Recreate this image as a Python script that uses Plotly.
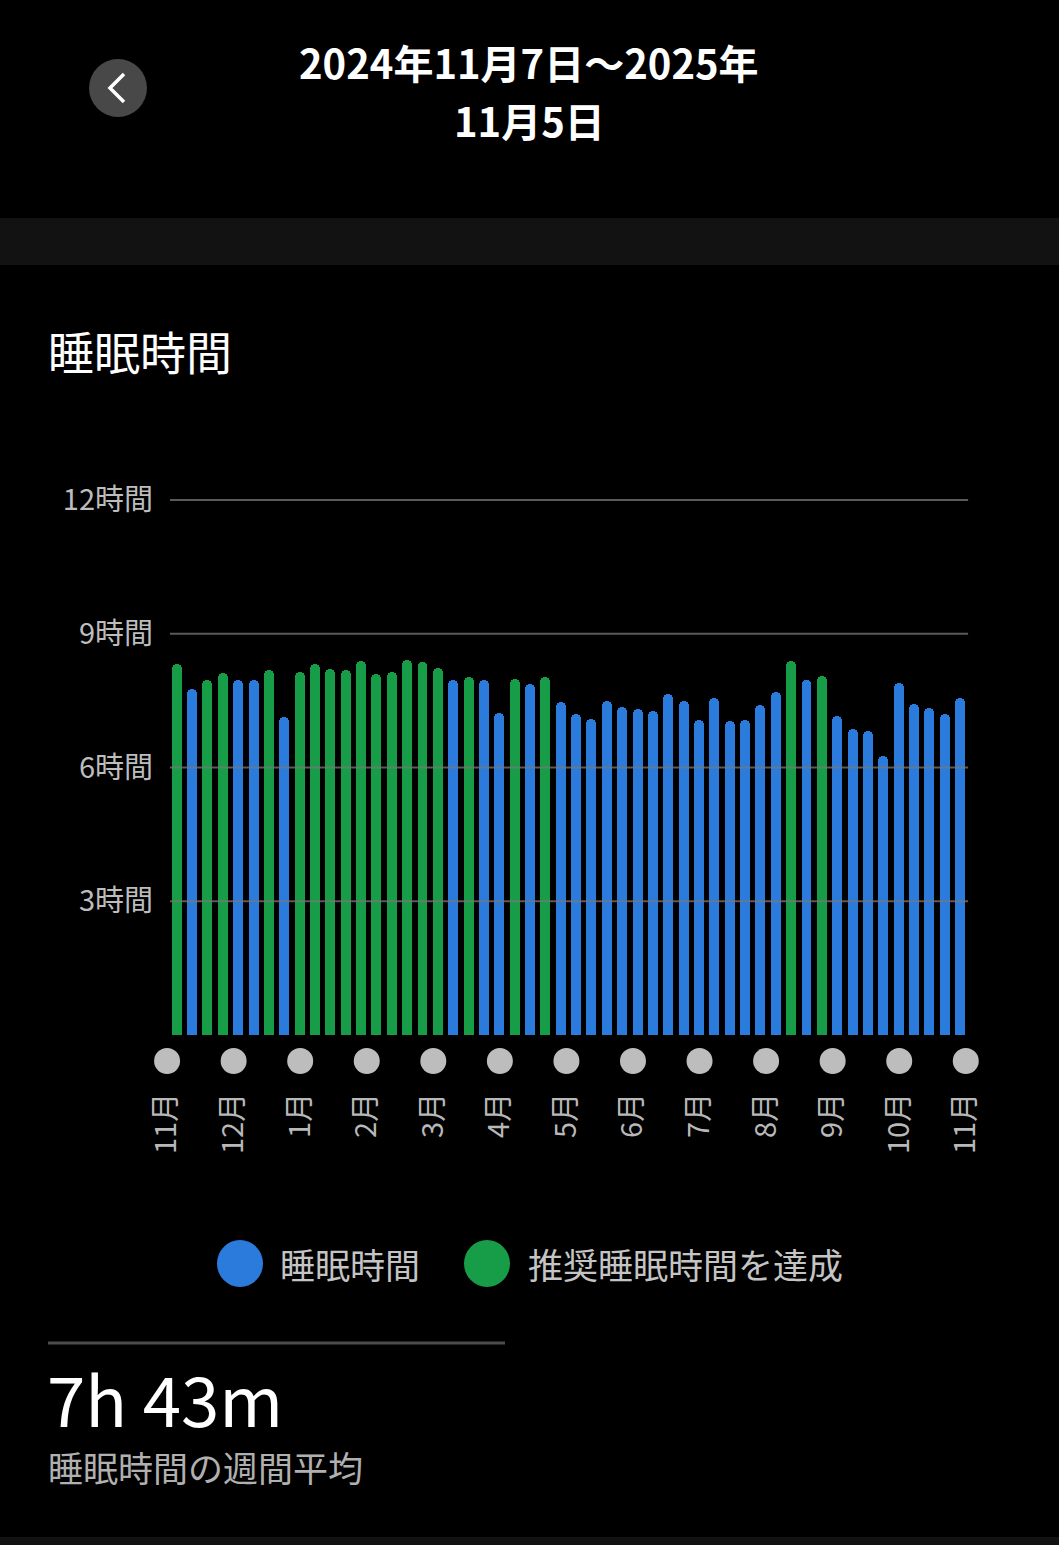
import plotly.graph_objects as go

W, H = 1059, 1545

# weekly sleep hours (2024-11-07 .. 2025-11-05)
hours = [
    8.31, 7.75, 7.96, 8.12, 7.96, 7.96, 8.18, 7.12, 8.13, 8.33,
    8.21, 8.18, 8.38, 8.10, 8.13, 8.40, 8.36, 8.22, 7.96, 8.03,
    7.96, 7.21, 7.98, 7.88, 8.03, 7.47, 7.19, 7.08, 7.50, 7.35,
    7.30, 7.26, 7.64, 7.48, 7.06, 7.56, 7.03, 7.06, 7.41, 7.69,
    8.38, 7.96, 8.05, 7.15, 6.86, 6.82, 6.26, 7.90, 7.43, 7.33,
    7.19, 7.56,
]
# 1 = recommended sleep achieved (green), 0 = normal (blue)
goal_met = [
    1, 0, 1, 1, 0, 0, 1, 0, 1, 1,
    1, 1, 1, 1, 1, 1, 1, 1, 0, 1,
    0, 0, 1, 0, 1, 0, 0, 0, 0, 0,
    0, 0, 0, 0, 0, 0, 0, 0, 0, 0,
    1, 0, 1, 0, 0, 0, 0, 0, 0, 0,
    0, 0,
]
months = ["11月", "12月", "1月", "2月", "3月", "4月", "5月",
          "6月", "7月", "8月", "9月", "10月", "11月"]
y_ticks = [3, 6, 9, 12]
y_ticktext = ["3時間", "6時間", "9時間", "12時間"]
legend_names = ["睡眠時間", "推奨睡眠時間を達成"]

title_lines = ["2024年11月7日～2025年", "11月5日"]
section_title = "睡眠時間"
avg_text = "7h 43m"
avg_label = "睡眠時間の週間平均"

BLUE = "#2b7bdc"
GREEN = "#179c47"
FONT = "Noto Sans CJK JP"


def px(x):
    return x / W


def py(y):
    return 1 - y / H


weeks = list(range(len(hours)))
colors = [GREEN if g else BLUE for g in goal_met]
month_step = len(hours) / (len(months) - 1)
month_pos = [-0.63 + j * month_step for j in range(len(months))]

fig = go.Figure()
fig.add_bar(x=weeks, y=hours, width=0.65,
            marker=dict(color=colors, cornerradius=5, line_width=0),
            showlegend=False, hoverinfo="y")
# month dots under the axis
fig.add_scatter(x=month_pos, y=[-0.583] * len(month_pos), mode="markers",
                marker=dict(size=26, color="#bdbdbd"), cliponaxis=False,
                showlegend=False, hoverinfo="skip")

fig.update_xaxes(range=[-1.09, 51.97], domain=[px(160), px(975)],
                 tickvals=month_pos, ticktext=months, tickangle=-90,
                 tickfont=dict(size=29, color="#b8b8b8", family=FONT),
                 ticklabelstandoff=6, showgrid=False, zeroline=False,
                 showline=False, ticks="", automargin=False)
fig.update_yaxes(range=[-1.01, 12.67], domain=[py(1080), py(470)],
                 tickvals=y_ticks, ticktext=y_ticktext,
                 tickfont=dict(size=29, color="#bdbdbd", family=FONT),
                 ticklabelstandoff=6, showgrid=False, zeroline=False,
                 showline=False, ticks="", automargin=False)

shapes = []
# grid lines drawn over the bars
for v in y_ticks:
    shapes.append(dict(type="line", xref="x", yref="y", x0=-0.44, x1=51.52,
                       y0=v, y1=v, layer="above",
                       line=dict(color="rgba(120,120,120,0.75)", width=2)))
# header band and bottom band
shapes.append(dict(type="rect", xref="paper", yref="paper", x0=0, x1=1,
                   y0=py(265), y1=py(218), fillcolor="#121212", line_width=0,
                   layer="below"))
shapes.append(dict(type="rect", xref="paper", yref="paper", x0=0, x1=1,
                   y0=0, y1=py(1537), fillcolor="#121212", line_width=0,
                   layer="below"))
# back button
shapes.append(dict(type="circle", xref="paper", yref="paper",
                   x0=px(89), x1=px(147), y0=py(117), y1=py(59),
                   fillcolor="#484848", line_width=0))
shapes.append(dict(type="path", xref="paper", yref="paper",
                   path=f"M {px(124)} {py(74)} L {px(110)} {py(88)} L {px(124)} {py(102)}",
                   line=dict(color="white", width=3.5)))
# legend circles
for cx, col in [(240, BLUE), (487, GREEN)]:
    shapes.append(dict(type="circle", xref="paper", yref="paper",
                       x0=px(cx - 23), x1=px(cx + 23), y0=py(1287), y1=py(1240),
                       fillcolor=col, line_width=0))
# separator above average
shapes.append(dict(type="line", xref="paper", yref="paper",
                   x0=px(48), x1=px(505), y0=py(1343), y1=py(1343),
                   line=dict(color="#4d4d4d", width=3)))

annotations = [
    dict(text=f"<b>{title_lines[0]}</b>", x=px(529), y=py(62),
         font=dict(size=40, color="white", family=FONT)),
    dict(text=f"<b>{title_lines[1]}</b>", x=px(529), y=py(120),
         font=dict(size=40, color="white", family=FONT)),
    dict(text=section_title, x=px(46), y=py(350), xanchor="left",
         font=dict(size=46, color="white", family=FONT)),
    dict(text=legend_names[0], x=px(278), y=py(1263), xanchor="left",
         font=dict(size=35, color="#c4c4c4", family=FONT)),
    dict(text=legend_names[1], x=px(526), y=py(1263), xanchor="left",
         font=dict(size=35, color="#c4c4c4", family=FONT)),
    dict(text=avg_text, x=px(45), y=py(1397), xanchor="left",
         font=dict(size=69, color="white", family=FONT)),
    dict(text=avg_label, x=px(46), y=py(1466), xanchor="left",
         font=dict(size=35, color="#b0b0b0", family=FONT)),
]
for a in annotations:
    a.setdefault("xanchor", "center")
    a.update(xref="paper", yref="paper", yanchor="middle", showarrow=False)

fig.update_layout(width=W, height=H,
                  margin=dict(l=0, r=0, t=0, b=0, autoexpand=False),
                  paper_bgcolor="black", plot_bgcolor="black",
                  bargap=0, shapes=shapes, annotations=annotations,
                  font=dict(family=FONT))

fig.write_html("out.html", config={"displayModeBar": False},
               post_script="document.body.style.margin='0';")
